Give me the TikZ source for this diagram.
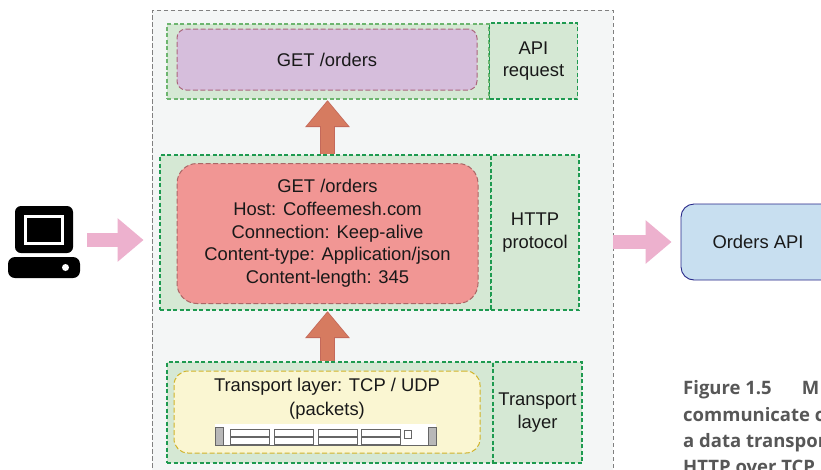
\documentclass[tikz,border=0pt]{standalone}
\usepackage{fontspec}
\setmainfont{Liberation Sans}
\newfontfamily\capfont{Open Sans}
\usetikzlibrary{arrows.meta}
\definecolor{outerfill}{HTML}{F4F6F6}
\definecolor{layerfill}{HTML}{D5E8D4}
\definecolor{layergreen}{HTML}{1E9A50}
\definecolor{layerlight}{HTML}{6DB56F}
\definecolor{purplefill}{HTML}{D6BEDC}
\definecolor{redfill}{HTML}{F19694}
\definecolor{yellowfill}{HTML}{FAF6D2}
\definecolor{bluefill}{HTML}{C8DFF0}
\definecolor{pinkarrow}{HTML}{EDB1CE}
\definecolor{uparrow}{HTML}{D67B60}
\definecolor{upedge}{HTML}{C4695A}
\tikzset{
 txt/.style={font=\fontsize{18.4}{22.7}\selectfont, align=center, text=black!90},
 layer/.style={draw=layerlight, dash pattern=on 4pt off 2.5pt, line width=1.2, fill=layerfill, inner sep=0, txt},
 layerside/.style={layer, draw=layergreen},
 card/.style={draw, dash pattern=on 5pt off 2.5pt, line width=1, rounded corners=#1, inner sep=0, txt},
 flowarrow/.style={draw=pinkarrow, line width=14, -{Triangle[width=42pt,length=26pt,fill=pinkarrow]}, shorten <=7, shorten >=8},
 upback/.style={draw=upedge, line width=15, -{Triangle[width=43pt,length=27pt,fill=upedge]}, shorten >=.5},
 upfront/.style={draw=uparrow, line width=13, -{Triangle[width=39pt,length=24.5pt,fill=uparrow]}, shorten >=1.8},
 bay/.style={draw=black!60, line width=1, fill=white},
 caption/.style={font=\capfont\bfseries\fontsize{18.5}{20}\selectfont, text=black!66, anchor=base west, inner sep=0},
}
\begin{document}
\begin{tikzpicture}[x=1pt,y=-1pt]
\useasboundingbox (0,0) rectangle (821,469);
\clip (0,0) rectangle (821,469);
\fill[white] (0,0) rectangle (821,469);
% outer frame, runs past the bottom
\node[draw=black!50, dash pattern=on 4.5pt off 2.5pt, line width=.9, fill=outerfill, minimum width=461, minimum height=480, inner sep=0] (outer) at (382.5,250) {};
% layers
\node[layer, minimum width=322, minimum height=75] (apilayer) at (328,61.5) {};
\node[layerside, minimum width=88, minimum height=76] (apiside) at (533.5,61) {API\\request};
\node[layerside, minimum width=331, minimum height=155] (httplayer) at (325.5,232.5) {};
\node[layerside, minimum width=88, minimum height=155] (httpside) at (535,232.5) {HTTP\\protocol};
\node[layerside, minimum width=326, minimum height=101] (tcplayer) at (330,412.5) {};
\node[layerside, minimum width=89, minimum height=101] (tcpside) at (537.5,412.5) {Transport\\layer};
% messages
\node[card=9, draw=purple!60!black!60, fill=purplefill, minimum width=300, minimum height=61] (apimsg) at (327,59.5) {GET /orders};
\node[card=20, draw=red!45!black!60, fill=redfill, minimum width=301, minimum height=140] (httpmsg) at (327.5,233.5) {GET /orders\\Host: Coffeemesh.com\\Connection: Keep-alive\\Content-type: Application/json\\Content-length: 345};
\node[card=14, draw=yellow!70!orange!80!black, fill=yellowfill, minimum width=306, minimum height=82] (tcpmsg) at (327,412) {};
\node[txt, inner sep=0, font=\fontsize{18.4}{24}\selectfont] (tcptxt) at (327,398.5) {Transport layer: TCP / UDP\\(packets)};
% server
\fill[white] (215,424) rectangle (436,446);
\fill[black!28] (215,427) rectangle (223,445);
\fill[black!28] (428,427) rectangle (436,445);
\draw[black!60, line width=1] (215,427) rectangle (223,445) (428,427) rectangle (436,445);
\draw[black!60, line width=1] (223,445.5) -- (428,445.5);
\foreach \x in {230,274,318,361} {
 \draw[bay] (\x,429) rectangle ++(39,15);
 \draw[black!60, line width=2] (\x,436.5) --++(39,0);
}
\draw[bay] (404.5,430.5) rectangle (411.5,438.5);
% client
\node[fill=black, rounded corners=6, minimum width=58, minimum height=47, inner sep=0] (monitor) at (44,229.5) {};
\node[draw=white, line width=3, fill=black, minimum width=37, minimum height=27, inner sep=0] (screen) at (44,230) {};
\node[fill=black, rounded corners=7, minimum width=72, minimum height=21, inner sep=0] (pcbase) at (44,267.5) {};
\fill[white] (65.5,267.5) circle (3.5);
% service
\node[draw=blue!45!black!85, line width=.9, fill=bluefill, rounded corners=13, minimum width=154, minimum height=76, inner sep=0, txt] (orders) at (758,242) {Orders API};
% arrows
\coordinate (pcout) at (80,240);
\draw[flowarrow] (pcout) -- (pcout -| outer.west);
\draw[flowarrow, shorten <=0, shorten >=9] (orders.west -| outer.east) -- (orders.west);
\draw[upback] (httpmsg.center |- httplayer.north) -- (httpmsg.center |- apilayer.south);
\draw[upfront] (httpmsg.center |- httplayer.north) -- (httpmsg.center |- apilayer.south);
\draw[upback] (httpmsg.center |- tcplayer.north) -- (httpmsg.center |- httplayer.south);
\draw[upfront] (httpmsg.center |- tcplayer.north) -- (httpmsg.center |- httplayer.south);
% caption, cut off by the page
\node[caption] (capa) at (683,394) {Figure 1.5\hspace{30pt}M};
\node[caption] (capb) at (683,421) {communicate c};
\node[caption] (capc) at (683,447) {a data transpor};
\node[caption] (capd) at (683,473) {HTTP over TCP};
\end{tikzpicture}
\end{document}
